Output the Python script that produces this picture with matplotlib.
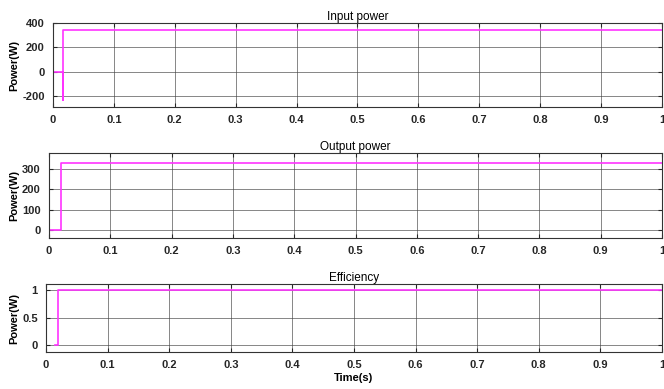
import matplotlib
matplotlib.use("Agg")
import matplotlib.pyplot as plt

# step traces
t_in = [0.0, 0.016, 0.016, 0.016, 1.0]
p_in = [0, 0, -230, 340, 340]

t_out = [0.0, 0.019, 0.019, 1.0]
p_out = [0, 0, 333, 333]

t_eff = [0.015, 0.019, 0.019, 1.0]
eff = [0, 0, 1, 1]

xticks = [0, 0.1, 0.2, 0.3, 0.4, 0.5, 0.6, 0.7, 0.8, 0.9, 1]
xticklabels = ["0", "0.1", "0.2", "0.3", "0.4", "0.5", "0.6", "0.7", "0.8", "0.9", "1"]

panels = [
    ("Input power", t_in, p_in, [-200, 0, 200, 400], (-290, 400),
     [0.0798, 0.7249, 0.9172, 0.216]),
    ("Output power", t_out, p_out, [0, 100, 200, 300], (-40, 380),
     [0.0738, 0.388, 0.9232, 0.2185]),
    ("Efficiency", t_eff, eff, [0, 0.5, 1], (-0.128, 1.115),
     [0.0693, 0.0951, 0.9275, 0.1748]),
]

plt.rcParams["font.family"] = ["Liberation Sans", "DejaVu Sans"]

fig = plt.figure(figsize=(6.64, 3.89), dpi=100)
for i, (title, t, y, yt, ylim, pos) in enumerate(panels):
    ax = fig.add_axes(pos)
    ax.plot(t, y, color="#ff33ff", lw=1.2)
    ax.set_xlim(0, 1)
    ax.set_ylim(*ylim)
    ax.set_xticks(xticks)
    ax.set_xticklabels(xticklabels, fontweight="bold")
    ax.set_yticks(yt)
    ax.set_yticklabels([f"{v:g}" for v in yt], fontweight="bold")
    ax.tick_params(direction="in", labelsize=8, colors="#262626", length=3,
                   top=True, right=True, pad=6)
    ax.grid(True, color="#444444", lw=0.6, alpha=0.75)
    for s in ax.spines.values():
        s.set_color("#333333")
        s.set_linewidth(0.8)
    ax.set_title(title, fontsize=8.5, pad=2)
    ax.set_ylabel("Power(W)", fontsize=8, fontweight="bold", labelpad=2)
    if i == 2:
        ax.set_xlabel("Time(s)", fontsize=8, fontweight="bold", labelpad=2)

fig.savefig("out.png", dpi=100)
